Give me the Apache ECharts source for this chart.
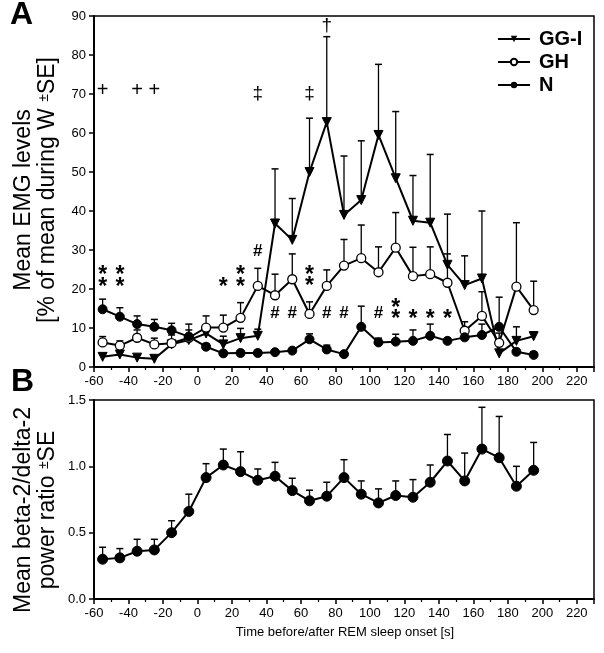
<!DOCTYPE html>
<html>
<head>
<meta charset="utf-8">
<script src="https://cdn.jsdelivr.net/npm/echarts@6/dist/echarts.min.js"></script>
<style>html,body{margin:0;padding:0;background:#fff}#c{width:604px;height:653px}</style>
</head>
<body>
<div id="c"></div>
<script>
// time bins (s)
const times = [-55,-45,-35,-25,-15,-5,5,15,25,35,45,55,65,75,85,95,105,115,125,135,145,155,165,175,185,195];
// Panel A: mean EMG levels (% of mean during W)
const ggiMean = [2.6,3.2,2.4,2.1,5.8,6.9,8.6,5.8,7.4,8.0,36.8,32.6,50.0,62.8,39.0,42.8,59.5,48.4,37.5,37.0,26.2,21.0,22.7,3.5,6.7,7.9];
const ggiUpper = [3.4,3.9,3.0,2.8,7.0,8.0,10.5,7.9,9.9,9.7,50.8,43.2,63.8,84.7,54.1,58.0,77.6,65.5,49.1,54.5,39.2,28.5,40.0,8.7,10.3,9.0];
const ghMean = [6.3,5.5,7.5,5.8,6.1,7.5,10.1,10.1,12.6,20.8,18.4,22.5,13.6,20.8,26.0,27.9,24.3,30.6,23.3,23.8,21.6,9.3,13.1,6.2,20.6,14.6];
const ghUpper = [7.8,6.7,9.5,7.4,8.2,11.0,13.1,13.3,16.5,25.3,23.8,29.0,16.7,24.9,32.7,36.4,30.8,39.6,30.7,30.8,29.0,11.6,19.3,7.0,37.0,22.0];
const nMean = [14.8,12.9,11.0,10.3,9.4,7.8,5.2,3.5,3.6,3.6,3.8,4.2,7.1,4.5,3.3,10.3,6.3,6.5,6.7,8.0,6.7,7.6,8.2,10.3,3.9,3.1];
const nUpper = [17.4,15.2,13.1,12.2,11.2,9.5,6.0,4.2,4.2,4.3,4.4,4.8,8.5,5.6,3.8,15.6,7.4,8.4,9.5,11.0,7.5,8.4,11.0,17.9,4.5,3.9];
// Panel B: beta-2/delta-2 power ratio
const ratioMean = [0.30,0.31,0.36,0.37,0.50,0.66,0.915,1.01,0.96,0.895,0.925,0.817,0.74,0.775,0.915,0.79,0.724,0.78,0.767,0.88,1.04,0.89,1.13,1.065,0.85,0.97];
const ratioUpper = [0.39,0.38,0.45,0.45,0.59,0.79,1.02,1.13,1.11,0.98,1.03,0.91,0.82,0.88,1.05,0.89,0.83,0.89,0.90,1.01,1.24,1.10,1.445,1.376,1.0,1.18];
// significance markers in panel A
const markX = [-55,-35,-25,35,65,75, -55,-55,-45,-45,15,25,25,65,65,115,115,125,135,145, 35,45,55,75,85,105];
const markY = [71,71,71,70,70,87.5, 24.6,21.5,24.6,21.5,21.5,24.6,21.5,24.8,21.8,16.3,13.3,13.3,13.3,13.3, 29.6,13.8,13.8,13.8,13.8,13.8];
const markText = ['+','+','+','\u2021','\u2021','\u2020', '*','*','*','*','*','*','*','*','*','*','*','*','*','*', '#','#','#','#','#','#'];
const xTicks = [-60,-40,-20,0,20,40,60,80,100,120,140,160,180,200,220];

const FONT = 'Liberation Sans, Arial, sans-serif';
const chart = echarts.init(document.getElementById('c'), null, {renderer:'canvas'});

function pairs(a){ return times.map((t,i)=>[t,a[i]]); }
function errData(m,u){ return times.map((t,i)=>[t,m[i],u[i]]); }
function errSeries(m,u,xi,yi){
  return {
    type:'custom', xAxisIndex:xi, yAxisIndex:yi, z:1, silent:true,
    data: errData(m,u),
    renderItem:function(params, api){
      const p0 = api.coord([api.value(0), api.value(1)]);
      const p1 = api.coord([api.value(0), api.value(2)]);
      const w = 3.5;
      return {type:'group', children:[
        {type:'line', shape:{x1:p0[0],y1:p0[1],x2:p1[0],y2:p1[1]}, style:{stroke:'#000',lineWidth:1.3}},
        {type:'line', shape:{x1:p1[0]-w,y1:p1[1],x2:p1[0]+w,y2:p1[1]}, style:{stroke:'#000',lineWidth:1.5}}
      ]};
    }
  };
}
function xAxisCfg(gi){
  return {
    gridIndex:gi, type:'value', min:-60, max:230, interval:20,
    axisLine:{onZero:false, lineStyle:{color:'#000', width:2}},
    axisTick:{show:true, length:5, lineStyle:{color:'#000', width:1.5}},
    minorTick:{show:true, splitNumber:2, length:3, lineStyle:{color:'#000', width:1.2}},
    splitLine:{show:false},
    axisLabel:{color:'#000', fontSize:13, fontFamily:FONT, margin:8, showMaxLabel:false,
      formatter:function(v){ return xTicks.indexOf(v)>=0 ? String(v) : ''; }}
  };
}
function yAxisCfg(gi, max, step, fmt){
  return {gridIndex:gi, type:'value', min:0, max:max, interval:step,
    axisLine:{show:true, onZero:false, lineStyle:{color:'#000', width:2}},
    axisTick:{show:true, length:5, lineStyle:{color:'#000', width:1.5}},
    splitLine:{show:false},
    axisLabel:{color:'#000', fontSize:13, fontFamily:FONT, margin:8, formatter:fmt}};
}
const markData = markX.map((x,i)=>[x, markY[i], markText[i]]);

chart.setOption({
  animation:false,
  backgroundColor:'#fff',
  grid:[
    {left:94, right:10, top:16, height:351, show:true, borderColor:'#000', borderWidth:1.5, backgroundColor:'transparent'},
    {left:94, right:10, top:400, height:199, show:true, borderColor:'#000', borderWidth:1.5, backgroundColor:'transparent'}
  ],
  xAxis:[xAxisCfg(0), xAxisCfg(1)],
  yAxis:[
    yAxisCfg(0, 90, 10, function(v){return String(v);}),
    yAxisCfg(1, 1.5, 0.5, function(v){return v.toFixed(1);})
  ],
  legend:{
    orient:'vertical', left:492, top:24, itemWidth:32, itemHeight:8, itemGap:3,
    data:['GG-I','GH','N'],
    textStyle:{color:'#000', fontSize:20, fontWeight:'bold', fontFamily:FONT, padding:[0,0,0,4]}
  },
  series:[
    errSeries(ggiMean, ggiUpper, 0, 0),
    errSeries(ghMean, ghUpper, 0, 0),
    errSeries(nMean, nUpper, 0, 0),
    errSeries(ratioMean, ratioUpper, 1, 1),
    {name:'GG-I', type:'line', xAxisIndex:0, yAxisIndex:0, z:3, data:pairs(ggiMean),
     symbol:'triangle', symbolRotate:180, symbolSize:9, showAllSymbol:true,
     lineStyle:{color:'#000', width:2}, itemStyle:{color:'#000', borderColor:'#000'}},
    {name:'GH', type:'line', xAxisIndex:0, yAxisIndex:0, z:3, data:pairs(ghMean),
     symbol:'circle', symbolSize:9, showAllSymbol:true,
     lineStyle:{color:'#000', width:2}, itemStyle:{color:'#fff', borderColor:'#000', borderWidth:1.3}},
    {name:'N', type:'line', xAxisIndex:0, yAxisIndex:0, z:3, data:pairs(nMean),
     symbol:'circle', symbolSize:9, showAllSymbol:true,
     lineStyle:{color:'#000', width:2}, itemStyle:{color:'#000', borderColor:'#000'}},
    {name:'ratio', type:'line', xAxisIndex:1, yAxisIndex:1, z:3, data:pairs(ratioMean),
     symbol:'circle', symbolSize:10, showAllSymbol:true,
     lineStyle:{color:'#000', width:2}, itemStyle:{color:'#000', borderColor:'#000'}},
    {type:'custom', xAxisIndex:0, yAxisIndex:0, z:4, silent:true, data:markData,
     renderItem:function(params, api){
       const p = api.coord([api.value(0), api.value(1)]);
       const t = markData[params.dataIndex][2];
       let size = 19, dy = 0, weight = 'normal';
       if (t === '*') { size = 23; dy = 5; weight = 'bold'; }
       if (t === '#') { size = 17; weight = 'bold'; }
       if (t === '+') { size = 20; }
       return {type:'text', x:p[0], y:p[1]+dy, style:{text:t, fill:'#000', font: weight+' '+size+'px '+FONT, align:'center', verticalAlign:'middle'}};
     }}
  ],
  graphic:[
    {type:'text', left:10, top:-1, style:{text:'A', fill:'#000', font:'bold 32px '+FONT}},
    {type:'text', left:11, top:366, style:{text:'B', fill:'#000', font:'bold 32px '+FONT}},
    {type:'text', x:24, y:200, rotation:Math.PI/2, style:{text:'Mean EMG levels', fill:'#000', font:'23px '+FONT, align:'center', verticalAlign:'middle'}},
    {type:'text', x:48, y:190, rotation:Math.PI/2, style:{text:'[% of mean during W {s|\u00b1}SE]', fill:'#000', font:'23px '+FONT, align:'center', verticalAlign:'middle',
      rich:{s:{font:'14px '+FONT, fill:'#000', padding:[0,0,7,0]}}}},
    {type:'text', x:24, y:510, rotation:Math.PI/2, style:{text:'Mean beta-2/delta-2', fill:'#000', font:'23px '+FONT, align:'center', verticalAlign:'middle'}},
    {type:'text', x:48, y:510, rotation:Math.PI/2, style:{text:'power ratio {s|\u00b1}SE', fill:'#000', font:'23px '+FONT, align:'center', verticalAlign:'middle',
      rich:{s:{font:'14px '+FONT, fill:'#000', padding:[0,0,7,0]}}}},
    {type:'text', x:345, y:632, style:{text:'Time before/after REM sleep onset [s]', fill:'#000', font:'13px '+FONT, align:'center', verticalAlign:'middle'}}
  ]
});
</script>
</body>
</html>
